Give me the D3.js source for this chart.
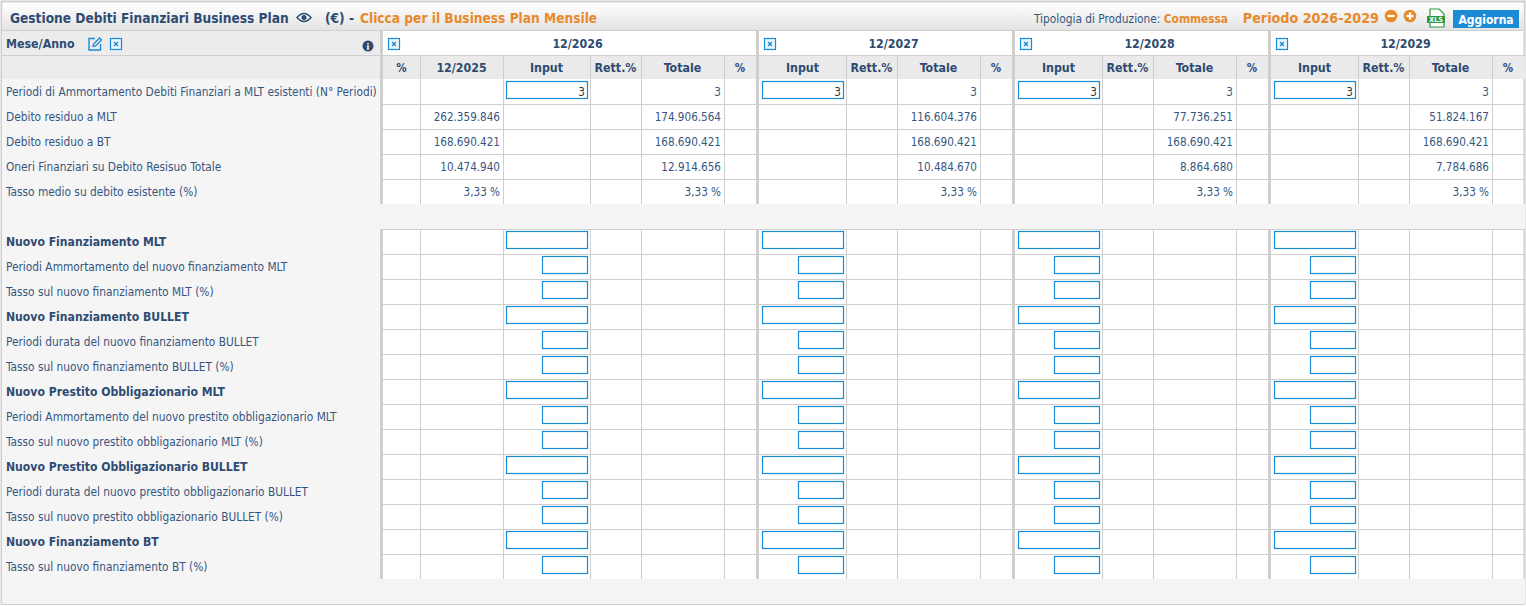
<!DOCTYPE html>
<html>
<head>
<meta charset="utf-8">
<script src="https://cdn.jsdelivr.net/npm/d3@7"></script>
<style>
  body { margin: 0; background: #fff; }
  svg text { font-family: "DejaVu Sans Condensed", "Liberation Sans Narrow", sans-serif; }
</style>
</head>
<body>
<div id="debiti"></div>
<script>
// dati della tabella
var periodi = ["12/2026", "12/2027", "12/2028", "12/2029"];
var colonneIniziali = ["%", "12/2025"];
var colonnePeriodo = ["Input", "Rett.%", "Totale", "%"];

var righe = [
  "Periodi di Ammortamento Debiti Finanziari a MLT esistenti (N° Periodi)",
  "Debito residuo a MLT",
  "Debito residuo a BT",
  "Oneri Finanziari su Debito Resisuo Totale",
  "Tasso medio su debito esistente (%)",
  "",
  "Nuovo Finanziamento MLT",
  "Periodi Ammortamento del nuovo finanziamento MLT",
  "Tasso sul nuovo finanziamento MLT (%)",
  "Nuovo Finanziamento BULLET",
  "Periodi durata del nuovo finanziamento BULLET",
  "Tasso sul nuovo finanziamento BULLET (%)",
  "Nuovo Prestito Obbligazionario MLT",
  "Periodi Ammortamento del nuovo prestito obbligazionario MLT",
  "Tasso sul nuovo prestito obbligazionario MLT (%)",
  "Nuovo Prestito Obbligazionario BULLET",
  "Periodi durata del nuovo prestito obbligazionario BULLET",
  "Tasso sul nuovo prestito obbligazionario BULLET (%)",
  "Nuovo Finanziamento BT",
  "Tasso sul nuovo finanziamento BT (%)",
  ""
];
// tipo: p = periodi (input), d = dato, v = vuota, t = titolo (input largo), s = sotto voce (input piccolo)
var tipoRiga = ["p", "d", "d", "d", "d", "v", "t", "s", "s", "t", "s", "s", "t", "s", "s", "t", "s", "s", "t", "s", "v"];

var valori2025 = [null, 262359846, 168690421, 10474940, 3.33];
var inputPeriodi = [3, 3, 3, 3];
var periodiTotale = [3, 3, 3, 3];
var debitoMLT = [174906564, 116604376, 77736251, 51824167];
var debitoBT = [168690421, 168690421, 168690421, 168690421];
var oneriFinanziari = [12914656, 10484670, 8864680, 7784686];
var tassoMedio = [3.33, 3.33, 3.33, 3.33];
var totali = [periodiTotale, debitoMLT, debitoBT, oneriFinanziari, tassoMedio];

var W = 1526, H = 606;
var blu = "#2e4b72", testo = "#36567f", arancio = "#e8892b", azzurro = "#1b8bd6", bordo = "#cfcfcf";
var fsTesto = 11.8, fsNum = 11.6, fsBold = 12.1, fsHdr = 12.3;

var it = d3.formatLocale({decimal: ",", thousands: ".", grouping: [3], currency: ["", " €"]});
var fmtInt = it.format(",d");
var fmtPct = function (v) { return it.format(",.2f")(v) + " %"; };
function formatta(i, v) {
  if (v == null) return "";
  return i == 4 ? fmtPct(v) : fmtInt(v);
}

var svg = d3.select("#debiti").append("svg").attr("width", W).attr("height", H);

// scale
var x = d3.scaleBand().domain(periodi).range([503, 503 + 4 * 256]);
var sub = d3.scaleOrdinal().domain(colonnePeriodo).range([0, 87, 138, 221]);
var subW = d3.scaleOrdinal().domain(colonnePeriodo).range([87, 51, 83, 32]);
var y = d3.scaleLinear().domain([0, 1]).range([79, 104]);
var xIni = d3.scaleOrdinal().domain(colonneIniziali).range([383, 420]);
var wIni = d3.scaleOrdinal().domain(colonneIniziali).range([37, 83]);

// cornice + barra titolo
var grad = svg.append("defs").append("linearGradient").attr("id", "gt").attr("x1", 0).attr("y1", 0).attr("x2", 0).attr("y2", 1);
grad.append("stop").attr("offset", 0).attr("stop-color", "#ffffff");
grad.append("stop").attr("offset", 1).attr("stop-color", "#e3e3e3");
svg.append("rect").attr("x", 1.5).attr("y", 1.5).attr("width", 1523).attr("height", 602)
  .attr("fill", "#fff").attr("stroke", bordo).attr("stroke-width", 2);
svg.append("rect").attr("x", 2.5).attr("y", 3).attr("width", 1521).attr("height", 27).attr("fill", "url(#gt)");

svg.append("text").attr("x", 10).attr("y", 23).attr("font-size", 13.6).attr("font-weight", "bold").attr("fill", blu)
  .text("Gestione Debiti Finanziari Business Plan");
// occhio
var eye = svg.append("g").attr("transform", "translate(304,17.5)");
eye.append("path").attr("d", "M-7,0 Q0,-8 7,0 Q0,8 -7,0Z").attr("fill", "none").attr("stroke", blu).attr("stroke-width", 1.5);
eye.append("circle").attr("r", 2.5).attr("fill", blu);
svg.append("text").attr("x", 325).attr("y", 23).attr("font-size", 13.6).attr("font-weight", "bold").attr("fill", blu).text("(€) -");
svg.append("text").attr("x", 360).attr("y", 23).attr("font-size", 13.6).attr("font-weight", "bold").attr("fill", arancio).text("Clicca per il Business Plan Mensile");

var dx = svg.append("text").attr("x", 1228).attr("y", 22.5).attr("font-size", 11.8).attr("text-anchor", "end");
dx.append("tspan").attr("fill", testo).text("Tipologia di Produzione: ");
dx.append("tspan").attr("fill", arancio).attr("font-weight", "bold").text("Commessa");
svg.append("text").attr("x", 1379).attr("y", 22.5).attr("text-anchor", "end").attr("font-size", 14.2).attr("font-weight", "bold").attr("fill", arancio).text("Periodo 2026-2029");
[[1391, "-"], [1410, "+"]].forEach(function (b) {
  var g = svg.append("g").attr("transform", "translate(" + b[0] + ",16)");
  g.append("circle").attr("r", 6.3).attr("fill", arancio);
  g.append("rect").attr("x", -3.6).attr("y", -1.1).attr("width", 7.2).attr("height", 2.2).attr("fill", "#fff");
  if (b[1] == "+") g.append("rect").attr("x", -1.1).attr("y", -3.6).attr("width", 2.2).attr("height", 7.2).attr("fill", "#fff");
});
// icona xls
var xls = svg.append("g").attr("transform", "translate(1427,9)");
xls.append("path").attr("d", "M3,0 H12 L17,5 V18 H3 Z").attr("fill", "#fff").attr("stroke", "#2e9a3e").attr("stroke-width", 1.2);
xls.append("rect").attr("x", 0).attr("y", 7).attr("width", 18).attr("height", 7).attr("fill", "#2e9a3e");
xls.append("text").attr("x", 9).attr("y", 13).attr("text-anchor", "middle").attr("font-size", 7).attr("font-weight", "bold").attr("fill", "#fff").text("XLS");
svg.append("rect").attr("x", 1453).attr("y", 10).attr("width", 66).attr("height", 18).attr("fill", azzurro);
svg.append("text").attr("x", 1486).attr("y", 23.5).attr("text-anchor", "middle").attr("font-size", 12).attr("font-weight", "bold").attr("fill", "#fff").text("Aggiorna");

// intestazioni
var hdr = svg.append("g");
hdr.append("rect").attr("x", 2).attr("y", 31).attr("width", 378).attr("height", 48).attr("fill", "#ececec");
hdr.append("rect").attr("x", 383).attr("y", 55).attr("width", 1142).attr("height", 24).attr("fill", "#eaeaea");
hdr.append("line").attr("x1", 2).attr("x2", 1525).attr("y1", 30.5).attr("y2", 30.5).attr("stroke", bordo);
hdr.append("line").attr("x1", 2).attr("x2", 1525).attr("y1", 55.5).attr("y2", 55.5).attr("stroke", bordo);
hdr.append("text").attr("x", 6).attr("y", 47.5).attr("font-size", fsHdr).attr("font-weight", "bold").attr("fill", blu).text("Mese/Anno");

function xbox(g, x0, y0) {
  g.append("rect").attr("x", x0 + 0.5).attr("y", y0 + 0.5).attr("width", 11).attr("height", 11)
    .attr("fill", "#eaf4fc").attr("stroke", azzurro).attr("stroke-width", 1.2);
  g.append("path").attr("d", "M" + (x0 + 4) + "," + (y0 + 4) + "l4,4m0,-4l-4,4").attr("stroke", azzurro).attr("stroke-width", 1.4);
}
// matita
var pen = hdr.append("g").attr("transform", "translate(88,37)");
pen.append("path").attr("d", "M7,1.5 H1 V13 H12.5 V7").attr("fill", "none").attr("stroke", azzurro).attr("stroke-width", 1.4);
pen.append("path").attr("d", "M5,9.5 L5.6,7 L11.5,1 L13.5,3 L7.5,9 Z").attr("fill", "none").attr("stroke", azzurro).attr("stroke-width", 1.3);
xbox(hdr, 110, 38);
hdr.append("circle").attr("cx", 368).attr("cy", 46).attr("r", 5.5).attr("fill", blu);
hdr.append("text").attr("x", 368).attr("y", 49.5).attr("text-anchor", "middle").attr("font-size", 9).attr("font-weight", "bold").attr("fill", "#fff").text("i");

periodi.forEach(function (p, i) {
  var x0 = i == 0 ? 383 : x(p);
  var x1 = x(p) + 253;
  xbox(hdr, x0 + 5, 38);
  hdr.append("text").attr("x", (x0 + x1) / 2 + 8).attr("y", 48).attr("text-anchor", "middle")
    .attr("font-size", fsHdr).attr("font-weight", "bold").attr("fill", blu).text(p);
});
colonneIniziali.forEach(function (c) {
  hdr.append("text").attr("x", xIni(c) + wIni(c) / 2).attr("y", 72).attr("text-anchor", "middle")
    .attr("font-size", c == "%" ? 11.5 : fsHdr).attr("font-weight", "bold").attr("fill", blu).text(c);
});
periodi.forEach(function (p) {
  colonnePeriodo.forEach(function (c) {
    hdr.append("text").attr("x", x(p) + sub(c) + subW(c) / 2).attr("y", 72).attr("text-anchor", "middle")
      .attr("font-size", c == "%" ? 11.5 : fsHdr).attr("font-weight", "bold").attr("fill", blu).text(c);
  });
});

// linee verticali
var sottili = [420, 503];
periodi.forEach(function (p) { [87, 138, 221].forEach(function (o) { sottili.push(x(p) + o); }); });
var spesse = [380].concat(periodi.slice(0, 3).map(function (p) { return x(p) + 253; }));

function verticali(g, y0, y1, conSottili) {
  if (conSottili) sottili.forEach(function (xv) {
    g.append("line").attr("x1", xv + 0.5).attr("x2", xv + 0.5).attr("y1", y0).attr("y2", y1).attr("stroke", bordo);
  });
  spesse.forEach(function (xv) {
    g.append("rect").attr("x", xv).attr("y", y0).attr("width", 3).attr("height", y1 - y0).attr("fill", bordo);
  });
}
verticali(hdr, 31, 55, false);
verticali(hdr, 55, 79, true);

// righe
var body = svg.append("g");
righe.forEach(function (r, i) {
  var t = tipoRiga[i], y0 = y(i), y1 = y(i + 1), cy = (y0 + y1) / 2;
  var g = body.append("g");
  if (t == "v") {
    g.append("rect").attr("x", 2).attr("y", y0).attr("width", 1523).attr("height", 25).attr("fill", "#f4f4f4");
  } else {
    g.append("rect").attr("x", 2).attr("y", y0).attr("width", 378).attr("height", 25).attr("fill", "#f5f5f5");
    verticali(g, y0, y1, true);
    g.append("text").attr("x", 6).attr("y", cy + 4.5).attr("font-size", t == "t" ? fsBold : fsTesto)
      .attr("font-weight", t == "t" ? "bold" : "normal").attr("fill", t == "t" ? blu : testo).text(r);
  }
  g.append("line").attr("x1", 2).attr("x2", 1525).attr("y1", y1 + 0.5).attr("y2", y1 + 0.5).attr("stroke", bordo);

  if (i < 5 && valori2025[i] != null) {
    g.append("text").attr("x", 500).attr("y", cy + 4.5).attr("text-anchor", "end").attr("font-size", fsNum)
      .attr("fill", testo).text(formatta(i, valori2025[i]));
  }
  periodi.forEach(function (p, k) {
    var xi = x(p) + sub("Input");
    if (t == "p" || t == "t") {
      g.append("rect").attr("x", xi + 3.5).attr("y", y0 + 2.5).attr("width", 81).attr("height", 17)
        .attr("fill", "#fff").attr("stroke", azzurro).attr("stroke-width", 1.2);
    }
    if (t == "s") {
      g.append("rect").attr("x", xi + 39.5).attr("y", y0 + 2.5).attr("width", 45).attr("height", 17)
        .attr("fill", "#fff").attr("stroke", azzurro).attr("stroke-width", 1.2);
    }
    if (t == "p") {
      g.append("text").attr("x", xi + 82).attr("y", cy + 4).attr("text-anchor", "end").attr("font-size", fsNum)
        .attr("fill", "#333").text(inputPeriodi[k]);
    }
    if (i < 5) {
      g.append("text").attr("x", x(p) + sub("Totale") + subW("Totale") - 3).attr("y", cy + 4.5)
        .attr("text-anchor", "end").attr("font-size", fsNum).attr("fill", testo).text(formatta(i, totali[i][k]));
    }
  });
});
</script>
</body>
</html>
